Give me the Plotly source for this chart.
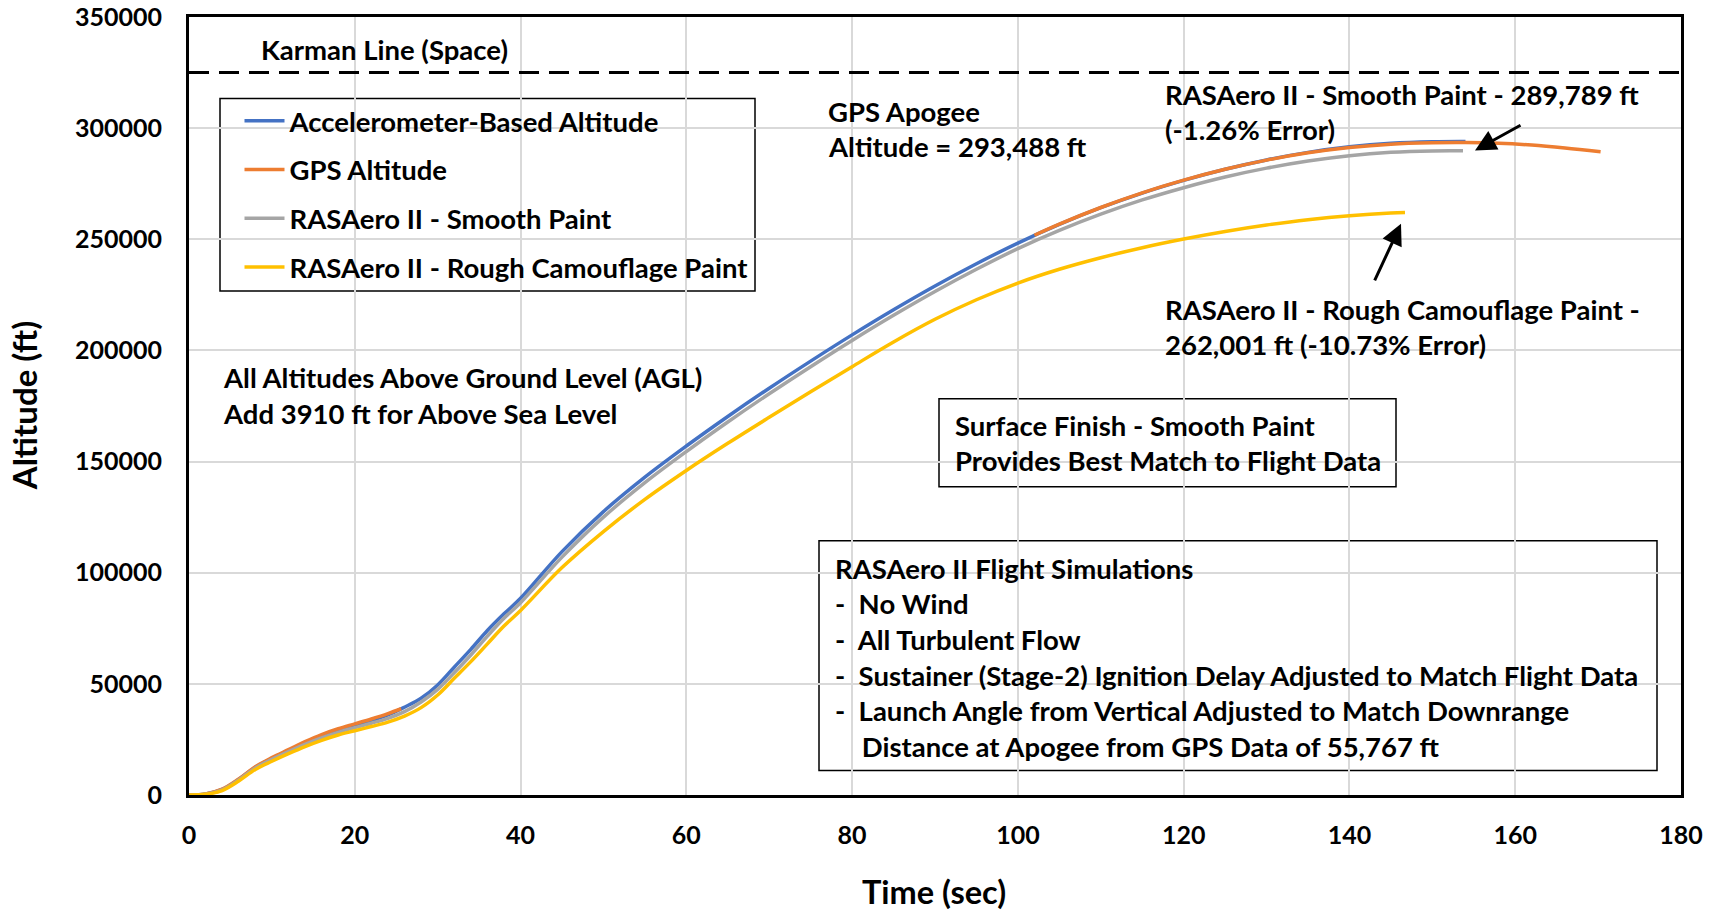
import plotly.graph_objects as go

# ---------------- data ----------------
accel_t = [0, 2, 4, 6, 8, 10, 12, 14, 16, 18, 20, 22, 24, 26, 28, 30, 32, 34, 36, 38, 40,
           45, 50, 55, 60, 65, 70, 75, 80, 85, 90, 95, 100, 105, 110, 115, 120, 125, 130,
           135, 140, 145, 150, 154]
accel_alt = [0, 500, 2500, 7000, 12500, 16500, 20000, 23500, 26500, 29000, 31500, 33500, 36000,
             39500, 43500, 49500, 57500, 65500, 74000, 81500, 88500,
             109500, 127500, 143000, 157000, 170300, 183000, 195200, 207000, 218300, 229000,
             239000, 248300, 256700, 264200, 270800, 276500, 281500, 285700, 289100, 291600,
             293200, 293900, 294000]

gps_t1 = [0, 2, 4, 6, 8, 10, 12, 14, 16, 18, 20, 22, 24, 25.6]
gps_alt1 = [0, 500, 2600, 7200, 12700, 16800, 20400, 24000, 27200, 29800, 32000, 34200, 36600, 38800]
gps_t2 = [102, 105, 110, 115, 120, 125, 130, 135, 140, 145, 150, 154, 158, 162, 166, 170.3]
gps_alt2 = [251800, 256800, 264300, 270900, 276600, 281500, 285600, 288900, 291300, 292800,
            293400, 293488, 293200, 292400, 291100, 289400]

smooth_t = [0, 2, 4, 6, 8, 10, 12, 14, 16, 18, 20, 22, 24, 26, 28, 30, 32, 34, 36, 38, 40,
            45, 50, 55, 60, 65, 70, 75, 80, 85, 90, 95, 100, 105, 110, 115, 120, 125, 130,
            135, 140, 145, 150, 153.7]
smooth_alt = [0, 400, 2300, 6800, 12200, 16000, 19500, 22800, 25700, 28200, 30300, 32300, 34500,
              37500, 41800, 47500, 55000, 63000, 71500, 79500, 86500,
              107000, 125000, 140500, 154500, 167800, 180500, 192700, 204500, 215800, 226500,
              236500, 245800, 254000, 261300, 267700, 273200, 278000, 282000, 285200, 287600,
              289100, 289750, 289789]

rough_t = [0, 2, 4, 6, 8, 10, 12, 14, 16, 18, 20, 22, 24, 26, 28, 30, 32, 34, 36, 38, 40,
           45, 50, 55, 60, 65, 70, 75, 80, 85, 90, 95, 100, 105, 110, 115, 120, 125, 130,
           135, 140, 145, 146.7]
rough_alt = [0, 300, 2000, 6300, 11500, 15200, 18600, 21800, 24600, 27000, 28900, 30800, 32800,
             35500, 39300, 45000, 52500, 60000, 68000, 76000, 83000,
             102300, 118500, 133000, 146000, 158200, 169900, 181400, 192700, 203800, 214000,
             222800, 230300, 236500, 241700, 246200, 250100, 253500, 256400, 258800, 260600,
             261800, 262001]

KARMAN_LINE_FT = 325000

series_names = ["Accelerometer-Based Altitude", "GPS Altitude",
                "RASAero II - Smooth Paint", "RASAero II - Rough Camouflage Paint"]
series_colors = ["#4472C4", "#ED7D31", "#A5A5A5", "#FFC000"]

x_ticks = [0, 20, 40, 60, 80, 100, 120, 140, 160, 180]
y_ticks = [0, 50000, 100000, 150000, 200000, 250000, 300000, 350000]

# ---------------- layout geometry ----------------
W, H = 1726, 911
PL, PR, PT, PB = 189, 1681, 16.5, 795


def px(x):
    return (x - PL) / (PR - PL)


def py(y):
    return (PB - y) / (PB - PT)


FONT = "Lato"
FS = 27.5
LW = 3.5

fig = go.Figure()

fig.add_trace(go.Scatter(x=accel_t, y=accel_alt, mode="lines", name=series_names[0],
                         line=dict(color=series_colors[0], width=LW, shape="spline"),
                         legendgroup="a"))
fig.add_trace(go.Scatter(x=gps_t1 + [None] + gps_t2, y=gps_alt1 + [None] + gps_alt2,
                         mode="lines", name=series_names[1], connectgaps=False,
                         line=dict(color=series_colors[1], width=LW, shape="spline"),
                         legendgroup="b"))
fig.add_trace(go.Scatter(x=smooth_t, y=smooth_alt, mode="lines", name=series_names[2],
                         line=dict(color=series_colors[2], width=LW, shape="spline"),
                         legendgroup="c"))
fig.add_trace(go.Scatter(x=rough_t, y=rough_alt, mode="lines", name=series_names[3],
                         line=dict(color=series_colors[3], width=LW, shape="spline"),
                         legendgroup="d"))

# Karman line
fig.add_trace(go.Scatter(x=[x_ticks[0], x_ticks[-1]], y=[KARMAN_LINE_FT, KARMAN_LINE_FT],
                         mode="lines", showlegend=False, hoverinfo="skip",
                         line=dict(color="black", width=3, dash="20px,10px")))

annotations = []


def text(x, y, s, size=FS):
    annotations.append(dict(x=px(x - 3), y=py(y), xref="paper", yref="paper", text=s,
                            showarrow=False, xanchor="left", yanchor="middle",
                            font=dict(family=FONT, size=size, color="black", weight="bold")))


text(262, 49.5, "Karman Line (Space)")
text(829, 111, "GPS Apogee")
text(829, 146, "Altitude = 293,488 ft")
text(1166, 93.6, "RASAero II - Smooth Paint - 289,789 ft")
text(1166, 128.8, "(-1.26% Error)")
text(1166, 309, "RASAero II - Rough Camouflage Paint -")
text(1166, 344.6, "262,001 ft (-10.73% Error)")
text(223.5, 377.6, "All Altitudes Above Ground Level (AGL)")
text(223.5, 412.8, "Add 3910 ft for Above Sea Level")
text(955.5, 425, "Surface Finish - Smooth Paint")
text(955.5, 460, "Provides Best Match to Flight Data")
box_lines = ["RASAero II Flight Simulations",
             "-  No Wind",
             "-  All Turbulent Flow",
             "-  Sustainer (Stage-2) Ignition Delay Adjusted to Match Flight Data",
             "-  Launch Angle from Vertical Adjusted to Match Downrange",
             "    Distance at Apogee from GPS Data of 55,767 ft"]
for i, s in enumerate(box_lines):
    text(835.5, 568 + i * 35.7, s)

# arrows
annotations.append(dict(x=px(1475), y=py(150), xref="paper", yref="paper", text="",
                        showarrow=True, ax=47, ay=-26, arrowhead=2, arrowsize=1.4,
                        arrowwidth=3, arrowcolor="black"))
annotations.append(dict(x=px(1401), y=py(223.5), xref="paper", yref="paper", text="",
                        showarrow=True, ax=-27, ay=58, arrowhead=2, arrowsize=1.4,
                        arrowwidth=3, arrowcolor="black"))

# axis titles
annotations.append(dict(x=px(934), y=py(892), xref="paper", yref="paper", text="Time (sec)",
                        showarrow=False, xanchor="center", yanchor="middle",
                        font=dict(family=FONT, size=32.5, color="black", weight="bold")))
annotations.append(dict(x=px(24), y=py(405), xref="paper", yref="paper", text="Altitude (ft)",
                        showarrow=False, xanchor="center", yanchor="middle", textangle=-90,
                        font=dict(family=FONT, size=33, color="black", weight="bold")))

shapes = [
    # legend frame
    dict(type="rect", xref="paper", yref="paper", x0=px(220), x1=px(755), y0=py(98),
         y1=py(290.6), line=dict(color="black", width=1.5), fillcolor="white", layer="below"),
    dict(type="rect", xref="paper", yref="paper", x0=px(939), x1=px(1396), y0=py(398.5),
         y1=py(486.5), line=dict(color="black", width=1.5), fillcolor="white", layer="below"),
    dict(type="rect", xref="paper", yref="paper", x0=px(819), x1=px(1657), y0=py(540.5),
         y1=py(770.6), line=dict(color="black", width=1.5), fillcolor="white", layer="below"),
]

fig.update_layout(
    width=W, height=H,
    margin=dict(l=PL, r=W - PR, t=PT, b=H - PB, pad=0, autoexpand=False),
    paper_bgcolor="white", plot_bgcolor="white",
    font=dict(family=FONT, size=FS, color="black"),
    annotations=annotations, shapes=shapes,
    legend=dict(x=px(239.5), y=py(96), xanchor="left", yanchor="top",
                bgcolor="rgba(0,0,0,0)", borderwidth=0,
                font=dict(family=FONT, size=FS, color="black", weight="bold"),
                tracegroupgap=10, itemwidth=40),
    showlegend=True,
)

fig.update_xaxes(range=[0, 180], tickvals=x_ticks, ticktext=[str(v) for v in x_ticks],
                 showgrid=True, gridcolor="#d9d9d9", gridwidth=1.5, automargin=False,
                 showline=True, linecolor="black", linewidth=3, mirror=True,
                 ticks="", ticklabelstandoff=16, zeroline=False,
                 tickfont=dict(family=FONT, size=25, color="black", weight="bold"))
fig.update_yaxes(range=[0, 350000], tickvals=y_ticks, ticktext=[str(v) for v in y_ticks],
                 showgrid=True, gridcolor="#d9d9d9", gridwidth=1.5, automargin=False,
                 showline=True, linecolor="black", linewidth=3, mirror=True,
                 ticks="", ticklabelstandoff=19, zeroline=False,
                 tickfont=dict(family=FONT, size=25, color="black", weight="bold"))

fig.write_html("out.html")
